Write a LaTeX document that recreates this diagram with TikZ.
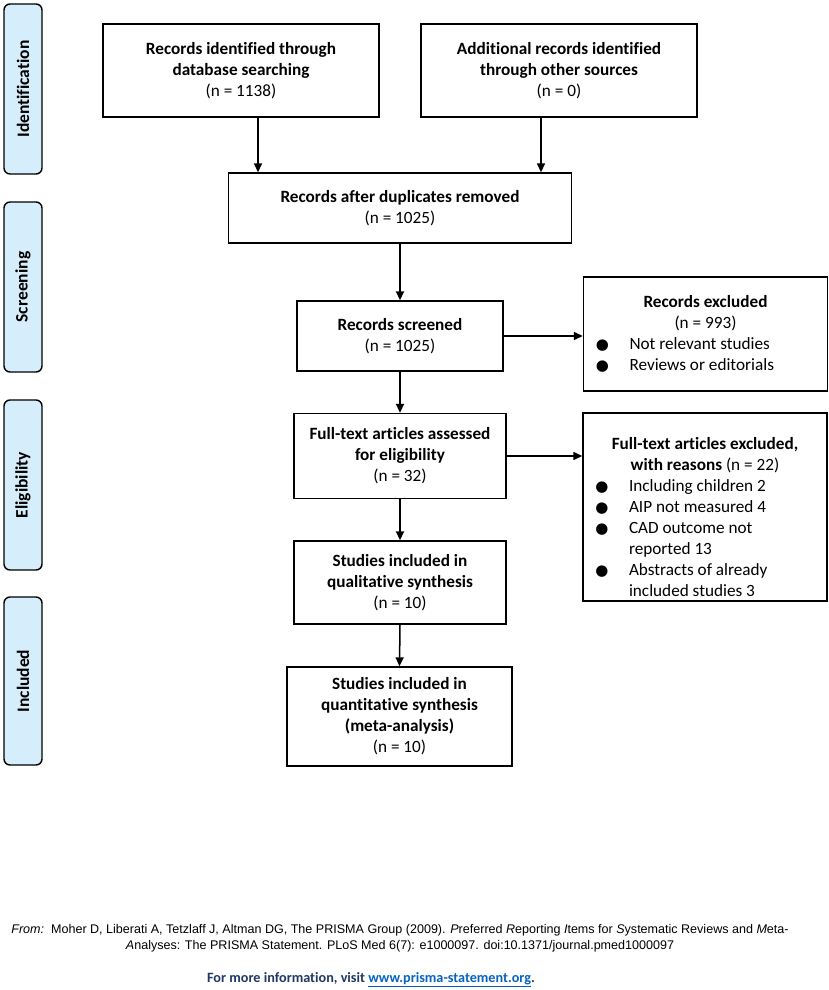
\documentclass[tikz,border=0pt]{standalone}
\usepackage{fontspec}
\setmainfont{Carlito}[Ligatures=NoCommon]
\newfontfamily\arialf{Liberation Sans}
\newfontfamily\djv{DejaVu Sans}
\usetikzlibrary{arrows.meta}
\definecolor{sidefill}{RGB}{214,238,252}
\definecolor{navy}{RGB}{31,56,100}
\definecolor{linkblue}{RGB}{5,99,193}
\newcommand\bul{{\djv\fontsize{15}{15}\selectfont ●}}
\newcommand\bitem[1]{\makebox[244pt][l]{\hspace{12pt}\makebox[14pt][c]{\bul}\hspace{20pt}#1}}
\newcommand\bcont[1]{\makebox[244pt][l]{\hspace{46pt}#1}}
\begin{document}
\begin{tikzpicture}[x=1pt,y=-1pt,
  box/.style={draw,line width=1.4pt,inner sep=0pt,align=center,font=\fontsize{17.2}{21}\selectfont},
  side/.style={draw,line width=1.4pt,fill=sidefill,rounded corners=6pt,rotate=90,minimum width=170pt,minimum height=38pt,inner sep=0pt,font=\bfseries\fontsize{17.5}{21}\selectfont},
  arr/.style={line width=1.5pt,-{Triangle[length=9pt,width=8pt]}}]
\useasboundingbox (0,0) rectangle (829,990);

% side labels
\node[side] (s1) at (23,89) {Identification};
\node[side] (s2) at (23,287) {Screening};
\node[side] (s3) at (23,485) {Eligibility};
\node[side,minimum width=168pt] (s4) at (23,681) {Included};

% boxes
\node[box,minimum width=276pt,minimum height=93pt] (b1) at (241,70.5)
  {\textbf{Records identified through}\\\textbf{database searching}\\(n = 1138)};
\node[box,minimum width=276pt,minimum height=93pt] (b2) at (559,70.5)
  {\textbf{Additional records identified}\\\textbf{through other sources}\\(n = 0)};
\node[box,minimum width=343pt,minimum height=70pt] (b3) at (400,208)
  {\textbf{Records after duplicates removed}\\(n = 1025)};
\node[box,minimum width=206pt,minimum height=70pt] (b4) at (400,336)
  {\textbf{Records screened}\\(n = 1025)};
\node[box,minimum width=243pt,minimum height=114pt] (b5) at (705.5,334)
  {\textbf{Records excluded}\\(n = 993)\\\bitem{Not relevant studies}\\\bitem{Reviews or editorials}};
\node[box,minimum width=212pt,minimum height=85pt] (b6) at (400,456)
  {\textbf{Full-text articles assessed}\\\textbf{for eligibility}\\(n = 32)};
\node[box,minimum width=244pt,minimum height=188pt] (b7) at (705,507)
  {\rule{0pt}{33pt}\textbf{Full-text articles excluded,}\\\textbf{with reasons} (n = 22)\\
   \bitem{Including children 2}\\\bitem{AIP not measured 4}\\\bitem{CAD outcome not}\\
   \bcont{reported 13}\\\bitem{Abstracts of already}\\\bcont{included studies 3}};
\node[box,minimum width=212pt,minimum height=83pt] (b8) at (400,582.5)
  {\textbf{Studies included in}\\\textbf{qualitative synthesis}\\(n = 10)};
\node[box,minimum width=225pt,minimum height=99pt] (b9) at (399.5,716.5)
  {\textbf{Studies included in}\\\textbf{quantitative synthesis}\\\textbf{(meta-analysis)}\\(n = 10)};

% connectors
\draw[arr] ([xshift=17pt]b1.south) -- ([xshift=17pt]b1.south |- b3.north);
\draw[arr] ([xshift=-18pt]b2.south) -- ([xshift=-18pt]b2.south |- b3.north);
\draw[arr] (b3.south) -- (b3.south |- b4.north);
\draw[arr] (b4.east) -- (b4.east -| b5.west);
\draw[arr] (b4.south) -- (b4.south |- b6.north);
\draw[arr] (b6.east) -- (b6.east -| b7.west);
\draw[arr] (b6.south) -- (b6.south |- b8.north);
\draw[arr] (b8.south) -- (b9.north);

% footer
\node[align=center,inner sep=0pt,font=\arialf\fontsize{12.55}{16}\selectfont] (ref) at (400,938)
  {\textit{From:}\ \ Moher D, Liberati A, Tetzlaff J, Altman DG, The PRISMA Group (2009). \textit{P}referred \textit{R}eporting \textit{I}tems for \textit{S}ystematic Reviews and \textit{M}eta-\\
   \textit{A}nalyses: The PRISMA Statement. PLoS Med 6(7): e1000097. doi:10.1371/journal.pmed1000097};
\node[inner sep=0pt,font=\bfseries\fontsize{14.2}{16}\selectfont,text=navy] (info) at (371,980)
  {For more information, visit \textcolor{linkblue}{\underline{www.prisma-statement.org}}.};
\end{tikzpicture}
\end{document}
